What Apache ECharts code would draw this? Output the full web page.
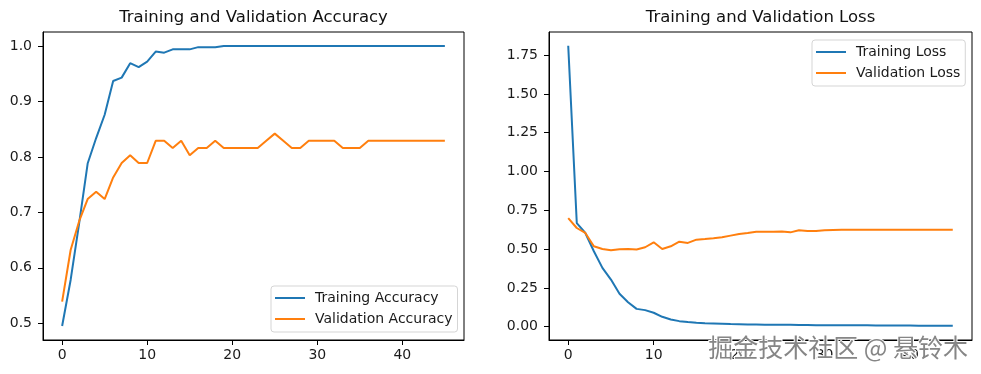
<!DOCTYPE html>
<html>
<head>
<meta charset="utf-8">
<script src="https://cdn.jsdelivr.net/npm/echarts@6/dist/echarts.min.js"></script>
<style>
html,body{margin:0;padding:0;background:#fff;}
#chart{width:981px;height:374px;}
</style>
</head>
<body>
<div id="chart"></div>
<script>
const epochs = Array.from({length: 46}, (_, i) => i);
const trainAcc = [0.495,0.578,0.680,0.788,0.834,0.876,0.937,0.943,0.969,0.962,0.972,0.990,0.988,0.994,0.994,0.994,0.998,0.998,0.998,1.0,
  1.0,1.0,1.0,1.0,1.0,1.0,1.0,1.0,1.0,1.0,1.0,1.0,1.0,1.0,1.0,1.0,1.0,1.0,1.0,1.0,1.0,1.0,1.0,1.0,1.0,1.0];
const valAcc = [0.539,0.632,0.684,0.724,0.737,0.724,0.763,0.789,0.803,0.789,0.789,0.829,0.829,0.816,0.829,0.803,0.816,0.816,0.829,0.816,
  0.816,0.816,0.816,0.816,0.829,0.842,0.829,0.816,0.816,0.829,0.829,0.829,0.829,0.816,0.816,0.816,0.829,0.829,0.829,0.829,0.829,0.829,0.829,0.829,0.829,0.829];
const trainLoss = [1.81,0.668,0.604,0.486,0.379,0.304,0.212,0.158,0.115,0.107,0.090,0.064,0.047,0.036,0.030,0.026,0.023,0.021,0.019,0.017,
  0.016,0.015,0.014,0.013,0.013,0.012,0.012,0.011,0.011,0.010,0.010,0.010,0.009,0.009,0.009,0.009,0.008,0.008,0.008,0.008,0.008,0.007,0.007,0.007,0.007,0.007];
const valLoss = [0.700,0.636,0.604,0.518,0.501,0.492,0.499,0.501,0.497,0.512,0.544,0.501,0.518,0.548,0.540,0.561,0.565,0.570,0.576,0.587,
  0.598,0.604,0.612,0.612,0.612,0.614,0.608,0.621,0.617,0.617,0.621,0.623,0.624,0.625,0.625,0.625,0.625,0.624,0.624,0.625,0.625,0.625,0.625,0.625,0.625,0.625];
const xTicks = [0,10,20,30,40];
const accTicks = [0.5,0.6,0.7,0.8,0.9,1.0];
const lossTicks = [0,0.25,0.5,0.75,1.0,1.25,1.5,1.75];

const FONT = 'DejaVu Sans';
const BLUE = '#1f77b4', ORANGE = '#ff7f0e';

function pairs(arr){ return arr.map((v,i)=>[epochs[i], v]); }

function xAxis(gi){
  return {
    type:'value', gridIndex:gi, min:-2.25, max:47.25,
    axisLine:{show:true, onZero:false, lineStyle:{color:'#000', width:1}},
    axisTick:{show:true, length:5, lineStyle:{color:'#000'}, customValues:xTicks},
    axisLabel:{color:'#1a1a1a', fontFamily:FONT, fontSize:14, margin:8, customValues:xTicks, formatter:v=>String(v)},
    splitLine:{show:false}
  };
}
function yAxis(gi, min, max, ticks, dec){
  return {
    type:'value', gridIndex:gi, min:min, max:max,
    axisLine:{show:true, onZero:false, lineStyle:{color:'#000', width:1}},
    axisTick:{show:true, length:5, lineStyle:{color:'#000'}, customValues:ticks},
    axisLabel:{color:'#1a1a1a', fontFamily:FONT, fontSize:14, margin:11, customValues:ticks, formatter:v=>v.toFixed(dec)},
    splitLine:{show:false}
  };
}
function line(name, data, color, gi){
  return {type:'line', name:name, data:pairs(data), xAxisIndex:gi, yAxisIndex:gi,
    showSymbol:false, symbol:'none', lineStyle:{color:color, width:2}, itemStyle:{color:color},
    animation:false, z:3};
}
const legendCommon = {
  orient:'vertical', icon:'rect', itemWidth:30, itemHeight:2, itemGap:5,
  backgroundColor:'rgba(255,255,255,0.8)', borderColor:'#d5d5d5', borderWidth:1, borderRadius:3,
  textStyle:{fontFamily:FONT, fontSize:14, color:'#1a1a1a', lineHeight:16, padding:[0,0,0,5]},
  selectedMode:false, padding:[4,5,5,4]
};

const chart = echarts.init(document.getElementById('chart'), null, {renderer:'canvas'});
chart.setOption({
  animation:false,
  backgroundColor:'#fff',
  grid:[
    {left:43, top:32, width:421, height:308, show:true, borderColor:'#000', borderWidth:1, backgroundColor:'transparent'},
    {left:549, top:32, width:423, height:308, show:true, borderColor:'#000', borderWidth:1, backgroundColor:'transparent'}
  ],
  xAxis:[xAxis(0), xAxis(1)],
  yAxis:[yAxis(0, 0.4697, 1.0253, accTicks, 1), yAxis(1, -0.0855, 1.8987, lossTicks, 2)],
  legend:[
    Object.assign({}, legendCommon, {data:['Training Accuracy','Validation Accuracy'], left:271, top:286}),
    Object.assign({}, legendCommon, {data:['Training Loss','Validation Loss'], left:812, top:40})
  ],
  series:[
    line('Training Accuracy', trainAcc, BLUE, 0),
    line('Validation Accuracy', valAcc, ORANGE, 0),
    line('Training Loss', trainLoss, BLUE, 1),
    line('Validation Loss', valLoss, ORANGE, 1)
  ],
  graphic:[
    {type:'text', style:{text:'Training and Validation Accuracy', fontFamily:FONT, fontSize:16.5, fill:'#111', x:253.5, y:18, align:'center', verticalAlign:'middle'}},
    {type:'text', style:{text:'Training and Validation Loss', fontFamily:FONT, fontSize:16.5, fill:'#111', x:760.5, y:18, align:'center', verticalAlign:'middle'}},
    {type:'text', z:100, style:{text:'掘金技术社区 @ 悬铃木', fontFamily:'Noto Sans CJK SC', fontSize:25, fill:'#868686', stroke:'#fff', lineWidth:2, x:968, y:347, align:'right', verticalAlign:'middle'}}
  ]
});
</script>
</body>
</html>
